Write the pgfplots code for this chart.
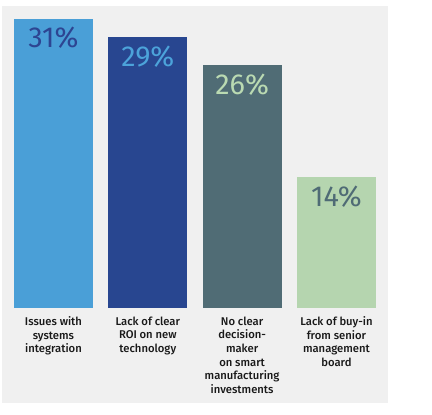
\documentclass[border=0pt]{standalone}
\usepackage{fontspec}
\setmainfont{Fira Sans}[UprightFont=* Medium]
\newfontfamily\valfont{Fira Sans}
\usepackage{pgfplots}
\pgfplotsset{compat=1.18}

\definecolor{panel}{HTML}{F0F0F0}
\definecolor{barA}{HTML}{4A9FD7}
\definecolor{barB}{HTML}{284690}
\definecolor{barC}{HTML}{506C75}
\definecolor{barD}{HTML}{B5D5AF}
\definecolor{valA}{HTML}{2D4592}
\definecolor{valB}{HTML}{4CA3DA}
\definecolor{valC}{HTML}{BADAB2}
\definecolor{valD}{HTML}{4F6B75}

\begin{document}
\begin{tikzpicture}[x=1bp,y=1bp]
  \path[use as bounding box] (0,0) rectangle (432,415);
  \fill[panel] (2,12) rectangle (388,409);
  \begin{axis}[
    at={(6.3bp,107bp)}, anchor=south west,
    scale only axis, width=377.3bp, height=308bp,
    xmin=-0.5, xmax=3.5, ymin=0, ymax=33,
    axis x line*=bottom, axis y line=none,
    x axis line style={draw=none},
    ybar, bar width=79bp,
    xtick={0,1,2,3},
    xticklabels={{Issues with\\systems\\integration},
                 {Lack of clear\\ROI on new\\technology},
                 {No clear\\decision-\\maker\\on smart\\manufacturing\\investments},
                 {Lack of buy-in\\from senior\\management\\board}},
    xticklabel style={align=center, font=\fontsize{11.3}{13.7}\selectfont,
                      text=black!90, anchor=north, inner sep=0pt, yshift=-8.5bp},
    ytick=\empty,
    major tick length=0pt,
    /pgf/number format/assume math mode=true,
    nodes near coords={\pgfmathprintnumber{\pgfplotspointmeta}\%},
    every node near coord/.style={anchor=north, inner sep=0pt, yshift=-8.5bp,
                      font=\valfont\fontsize{29}{30}\selectfont},
  ]
    \addplot[fill=barA, draw=none, bar shift=0pt, every node near coord/.append style={text=valA}] coordinates {(0,31)};
    \addplot[fill=barB, draw=none, bar shift=0pt, every node near coord/.append style={text=valB}] coordinates {(1,29)};
    \addplot[fill=barC, draw=none, bar shift=0pt, every node near coord/.append style={text=valC}] coordinates {(2,26)};
    \addplot[fill=barD, draw=none, bar shift=0pt, every node near coord/.append style={text=valD}] coordinates {(3,14)};
  \end{axis}
\end{tikzpicture}
\end{document}
